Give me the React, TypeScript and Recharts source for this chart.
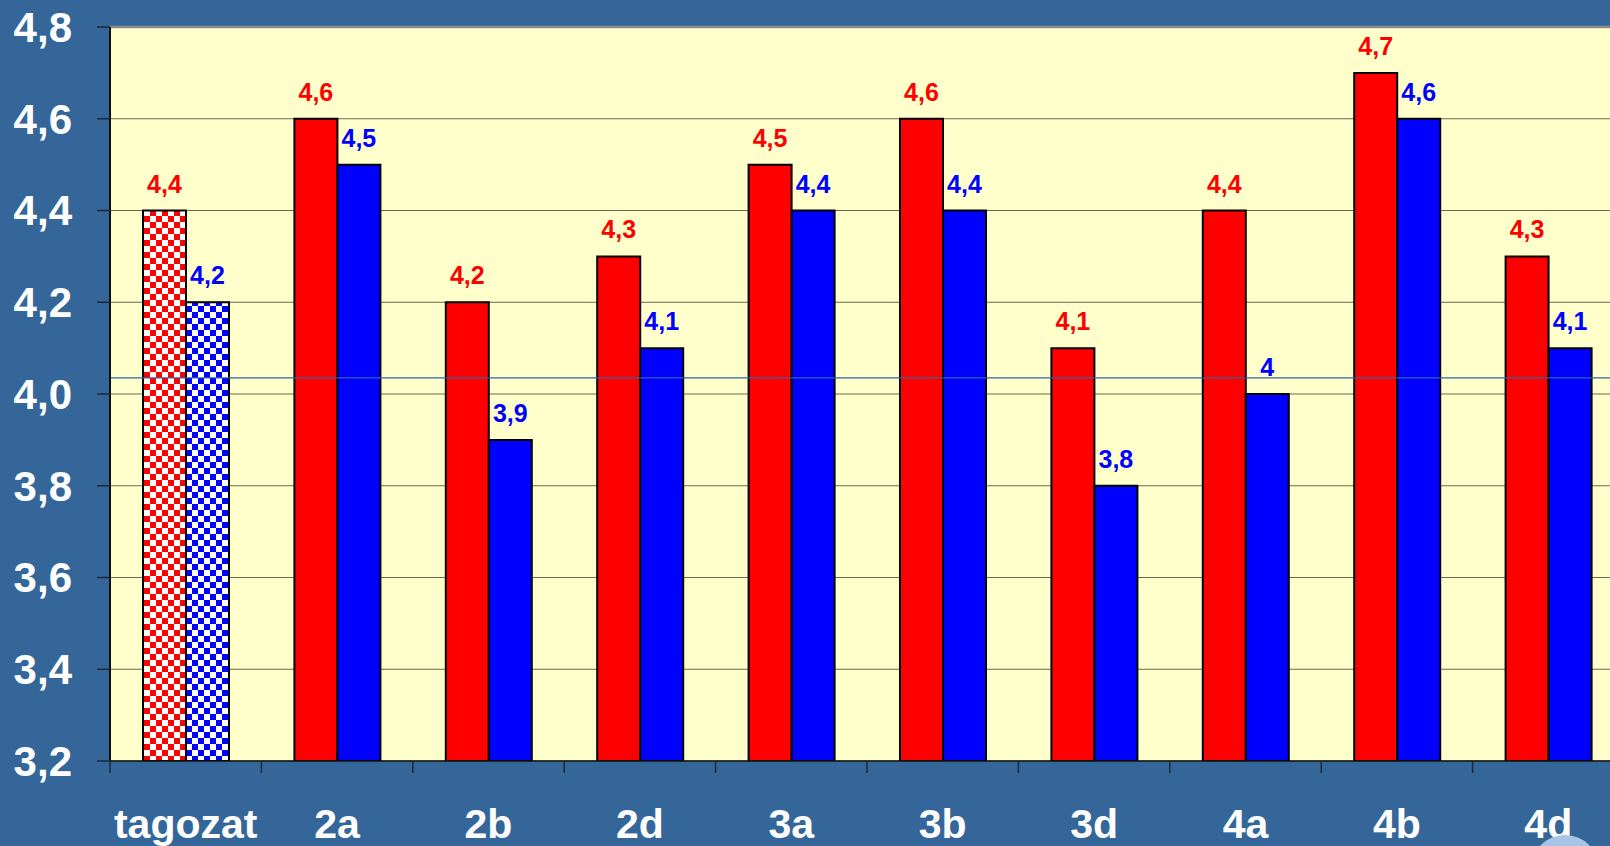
import { BarChart, Bar, XAxis, YAxis, CartesianGrid, ReferenceLine, LabelList, Cell } from 'recharts';

const kategoriak = ['tagozat', '2a', '2b', '2d', '3a', '3b', '3d', '4a', '4b', '4d'];
const pirosErtekek = [4.4, 4.6, 4.2, 4.3, 4.5, 4.6, 4.1, 4.4, 4.7, 4.3];
const kekErtekek = [4.2, 4.5, 3.9, 4.1, 4.4, 4.4, 3.8, 4.0, 4.6, 4.1];
const yTicks = [3.2, 3.4, 3.6, 3.8, 4.0, 4.2, 4.4, 4.6, 4.8];
const atlagVonal = 4.035;

const CHART_W = 1630;
const CHART_H = 846;
const Y_AXIS_W = 110;
const MARGIN = { top: 27, right: 6, bottom: 0, left: 0 };
const HALF_BAND = (CHART_W - Y_AXIS_W - MARGIN.right) / kategoriak.length / 2;

const FONT = '"Liberation Sans", Arial, sans-serif';
const BG = '#34669A';

const data = kategoriak.map((k, i) => ({
  nev: k,
  piros: pirosErtekek[i],
  kek: kekErtekek[i],
}));

const fmtTizedes = (v: number) => String(v).replace('.', ',');

function XTick(props: any) {
  const { x, y, payload } = props;
  return (
    <g>
      <line x1={x - HALF_BAND} x2={x - HALF_BAND} y1={y} y2={y + 12} stroke="#1a2a3a" strokeWidth={1.5} />
      <text
        x={x}
        y={y + 77}
        textAnchor="middle"
        fill="#ffffff"
        fontFamily={FONT}
        fontWeight="bold"
        fontSize={41}
      >
        {payload.value}
      </text>
    </g>
  );
}

// érték felirat az oszlop fölött
const ertekCimke = (szin: string) => (props: any) => {
  const { x, y, width, value } = props;
  return (
    <text
      x={Number(x) + Number(width) / 2}
      y={Number(y) - 18}
      textAnchor="middle"
      fill={szin}
      fontFamily={FONT}
      fontWeight="bold"
      fontSize={25}
    >
      {fmtTizedes(value)}
    </text>
  );
};

// sakktábla minta a tagozat oszlopaihoz
function Kocka({ id, szin }: { id: string; szin: string }) {
  return (
    <pattern id={id} width={12} height={12} patternUnits="userSpaceOnUse">
      <rect width={12} height={12} fill="#ffffff" />
      <rect width={6} height={6} fill={szin} />
      <rect x={6} y={6} width={6} height={6} fill={szin} />
    </pattern>
  );
}

export default function App() {
  return (
    <div
      style={{
        position: 'absolute',
        left: 0,
        top: 0,
        width: 1610,
        height: 846,
        overflow: 'hidden',
        background: BG,
      }}
    >
      <BarChart width={CHART_W} height={CHART_H} data={data} margin={MARGIN} barGap={0}>
        <defs>
          <Kocka id="kockaPiros" szin="#ff0000" />
          <Kocka id="kockaKek" szin="#0000ff" />
        </defs>
        <CartesianGrid vertical={false} fill="#FFFFCC" stroke="#6b6b50" strokeWidth={1} />
        <XAxis
          dataKey="nev"
          height={CHART_H - MARGIN.top - 734}
          tickLine={false}
          tickSize={0}
          tickMargin={0}
          axisLine={{ stroke: '#111111', strokeWidth: 1.5 }}
          tick={<XTick />}
          interval={0}
        />
        <YAxis
          width={Y_AXIS_W}
          domain={[3.2, 4.8]}
          ticks={yTicks}
          tickFormatter={(v: number) => v.toFixed(1).replace('.', ',')}
          tick={{ fill: '#ffffff', fontFamily: FONT, fontWeight: 'bold', fontSize: 42 }}
          tickSize={13}
          tickMargin={25}
          tickLine={{ stroke: '#1a2a3a', strokeWidth: 1.5 }}
          axisLine={{ stroke: '#111111', strokeWidth: 2 }}
          allowDataOverflow
        />
        <ReferenceLine y={4.8} stroke="#8a8a8a" strokeWidth={2.5} />
        <Bar dataKey="piros" fill="#ff0000" stroke="#000000" strokeWidth={2} barSize={43} isAnimationActive={false}>
          {data.map((_, i) => (
            <Cell key={i} fill={i === 0 ? 'url(#kockaPiros)' : '#ff0000'} />
          ))}
          <LabelList dataKey="piros" content={ertekCimke('#ff0000')} />
        </Bar>
        <Bar dataKey="kek" fill="#0000ff" stroke="#000000" strokeWidth={2} barSize={43} isAnimationActive={false}>
          {data.map((_, i) => (
            <Cell key={i} fill={i === 0 ? 'url(#kockaKek)' : '#0000ff'} />
          ))}
          <LabelList dataKey="kek" content={ertekCimke('#0000ff')} />
        </Bar>
        <ReferenceLine y={atlagVonal} stroke="#2f62a8" strokeWidth={1.2} />
      </BarChart>
      <div
        style={{
          position: 'absolute',
          left: 1531,
          top: 835,
          width: 68,
          height: 68,
          borderRadius: '50%',
          background: '#a9c5e6',
        }}
      />
    </div>
  );
}
